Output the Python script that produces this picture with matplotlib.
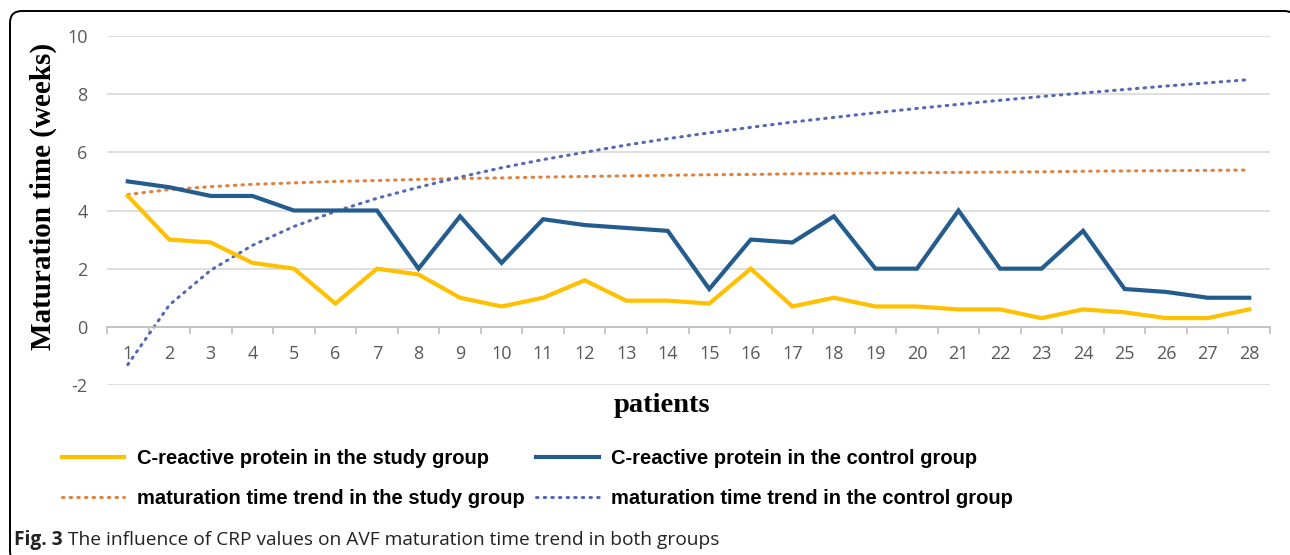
import matplotlib
matplotlib.use("Agg")
import matplotlib.pyplot as plt
from matplotlib.patches import FancyBboxPatch
import numpy as np

# Data
patients = list(range(1, 29))
crp_study = [4.5, 3.0, 2.9, 2.2, 2.0, 0.8, 2.0, 1.8, 1.0, 0.7, 1.0, 1.6, 0.9, 0.9,
             0.8, 2.0, 0.7, 1.0, 0.7, 0.7, 0.6, 0.6, 0.3, 0.6, 0.5, 0.3, 0.3, 0.6]
crp_control = [5.0, 4.8, 4.5, 4.5, 4.0, 4.0, 4.0, 2.0, 3.8, 2.2, 3.7, 3.5, 3.4, 3.3,
               1.3, 3.0, 2.9, 3.8, 2.0, 2.0, 4.0, 2.0, 2.0, 3.3, 1.3, 1.2, 1.0, 1.0]
trend_study = [4.55, 4.72, 4.82, 4.90, 4.95, 5.00, 5.03, 5.07, 5.10, 5.12, 5.15, 5.17,
               5.19, 5.21, 5.23, 5.24, 5.26, 5.27, 5.29, 5.30, 5.31, 5.32, 5.33, 5.35,
               5.36, 5.37, 5.38, 5.39]
trend_control = [-1.3, 0.75, 1.95, 2.8, 3.45, 3.97, 4.42, 4.8, 5.15, 5.47, 5.75, 6.0,
                 6.25, 6.47, 6.67, 6.86, 7.04, 7.2, 7.36, 7.51, 7.65, 7.79, 7.92, 8.04,
                 8.16, 8.28, 8.39, 8.5]
yticks = [-2, 0, 2, 4, 6, 8, 10]

labels = ["C-reactive protein in the study group",
          "C-reactive protein in the control group",
          "maturation time trend in the study group",
          "maturation time trend in the control group"]

YELLOW = "#FFC000"
BLUE = "#245C8E"
ORANGE = "#E0823E"
LBLUE = "#5468B5"
TICK = "#595959"

plt.rcParams["axes.unicode_minus"] = False

fig = plt.figure(figsize=(12.9, 5.55), dpi=100)

# rounded border around the whole figure
bg = fig.add_axes([0, 0, 1, 1], zorder=-5)
bg.set_xlim(0, 1290)
bg.set_ylim(555, 0)
bg.axis("off")
bg.add_patch(FancyBboxPatch((10, 11), 1286, 552, boxstyle="round,pad=0,rounding_size=12",
                            fc="white", ec="black", lw=1.4))

ax = fig.add_axes([107 / 1290, 1 - 385 / 555, (1270 - 107) / 1290, (385 - 36) / 555])
ax.set_facecolor("none")

dots = (0, (0.5, 2.0))
l1, = ax.plot(patients, crp_study, color=YELLOW, lw=3.0, solid_joinstyle="miter", zorder=3)
l2, = ax.plot(patients, crp_control, color=BLUE, lw=3.0, solid_joinstyle="miter", zorder=4)
l3, = ax.plot(patients, trend_study, color=ORANGE, lw=2.2, ls=dots,
              dash_capstyle="round", zorder=2)
l4, = ax.plot(patients, trend_control, color=LBLUE, lw=2.2, ls=dots,
              dash_capstyle="round", zorder=2)

ax.set_xlim(0.5, 28.5)
ax.set_ylim(-2, 10)
ax.set_yticks(yticks)
ax.yaxis.grid(True, color="#d9d9d9", lw=1.2)
ax.set_axisbelow(True)
for s in ["top", "right", "left"]:
    ax.spines[s].set_visible(False)
ax.spines["bottom"].set_position(("data", 0))
ax.spines["bottom"].set_color("#bfbfbf")
ax.spines["bottom"].set_linewidth(1.2)

ax.set_xticks(np.arange(0.5, 29, 1))
ax.set_xticklabels([])
ax.set_xticks(patients, minor=True)
ax.set_xticklabels([str(p) for p in patients], minor=True)
ax.tick_params(axis="x", which="major", length=5, width=1.2, color="#bfbfbf", direction="out")
ax.tick_params(axis="x", which="minor", length=0, pad=13, labelsize=13, labelcolor=TICK)
ax.tick_params(axis="y", length=0, pad=14, labelsize=13, labelcolor=TICK)
for t in ax.get_xticklabels(minor=True) + ax.get_yticklabels():
    t.set_family("Open Sans")

fig.text(43 / 1290, 1 - 196 / 555, "Maturation time (weeks)", rotation=90,
         ha="center", va="center", family="Liberation Serif", weight="bold", fontsize=21)
fig.text(662 / 1290, 1 - 406 / 555, "patients", ha="center", va="center",
         family="Liberation Serif", weight="bold", fontsize=20.5)

leg = fig.legend([l1, l3, l2, l4], [labels[0], labels[2], labels[1], labels[3]],
                 ncol=2, loc="upper left", bbox_to_anchor=(62 / 1290, 1 - 449 / 555),
                 frameon=False, borderpad=0, borderaxespad=0, handlelength=3.1,
                 handletextpad=0.6, columnspacing=0.6, labelspacing=1.05,
                 prop={"family": "Liberation Sans", "weight": "bold", "size": 14.5})
for h in leg.legend_handles[2:]:
    pass

t1 = fig.text(14 / 1290, 1 - 540 / 555, "Fig. 3", ha="left", va="center",
              family="Open Sans", weight="bold", fontsize=13.8, color="#222222")
fig.canvas.draw()
bb = t1.get_window_extent()
fig.text((bb.x1 + 5) / 1290, 1 - 540 / 555,
         "The influence of CRP values on AVF maturation time trend in both groups",
         ha="left", va="center", family="Open Sans", fontsize=13.8, color="#222222")

fig.savefig("out.png", dpi=100)
